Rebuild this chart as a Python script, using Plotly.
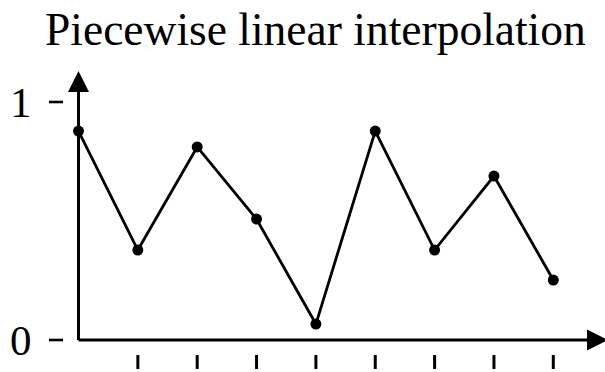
import plotly.graph_objects as go

# Sample points joined by straight segments
x_nodes = [0, 1, 2, 3, 4, 5, 6, 7, 8]
y_nodes = [0.878, 0.378, 0.811, 0.508, 0.067, 0.878, 0.378, 0.689, 0.252]

x_tick_vals = [1, 2, 3, 4, 5, 6, 7, 8]
y_tick_vals = [0, 1]
y_tick_text = ["0", "1"]

title_text = "Piecewise linear interpolation"

W, H = 605, 372
# pixel scale: origin at (78.5, 340), 59.35 px per x unit, 238 px per y unit
X0_PX, Y0_PX, SX, SY = 78.5, 340.0, 59.35, 238.0
x_range = [-X0_PX / SX, (W - X0_PX) / SX]
y_range = [-(H - Y0_PX) / SY, Y0_PX / SY]

FONT = "Liberation Serif"

fig = go.Figure()
fig.add_trace(go.Scatter(
    x=x_nodes, y=y_nodes, mode="lines+markers",
    line=dict(color="black", width=2.8),
    marker=dict(color="black", size=11),
    showlegend=False, hoverinfo="skip",
))

shapes = []
# y-axis tick dashes, detached from the axis
for v in y_tick_vals:
    shapes.append(dict(type="line", xref="x", yref="y",
                       x0=-29.5 / SX, x1=-15.5 / SX, y0=v, y1=v,
                       line=dict(color="black", width=2.6)))
# x-axis tick dashes below the axis
for v in x_tick_vals:
    shapes.append(dict(type="line", xref="x", yref="y",
                       x0=v, x1=v, y0=-15 / SY, y1=-29 / SY,
                       line=dict(color="black", width=3)))

annotations = []
# axes with arrowheads
annotations.append(dict(x=0, y=(Y0_PX - 71) / SY, ax=0, ay=-1.5 / SY,
                        xref="x", yref="y", axref="x", ayref="y",
                        showarrow=True, arrowhead=2, arrowsize=1.4,
                        arrowwidth=3, arrowcolor="black", text="",
                        standoff=0, startstandoff=0))
annotations.append(dict(x=(W + 3 - X0_PX) / SX, y=0, ax=-1.5 / SX, ay=0,
                        xref="x", yref="y", axref="x", ayref="y",
                        showarrow=True, arrowhead=2, arrowsize=1.4,
                        arrowwidth=3, arrowcolor="black", text="",
                        standoff=0, startstandoff=0))
for v, t in zip(y_tick_vals, y_tick_text):
    annotations.append(dict(x=-45 / SX, y=v, xref="x", yref="y",
                            text=t, showarrow=False, xanchor="right",
                            yanchor="middle",
                            font=dict(family=FONT, size=43, color="black")))
annotations.append(dict(x=0.522, y=1.0, xref="paper", yref="paper",
                        text=title_text, showarrow=False,
                        xanchor="center", yanchor="top", yshift=-2,
                        font=dict(family=FONT, size=45.5, color="black")))

fig.update_layout(
    width=W, height=H,
    margin=dict(l=0, r=0, t=0, b=0),
    paper_bgcolor="white", plot_bgcolor="white",
    xaxis=dict(range=x_range, visible=False, fixedrange=True),
    yaxis=dict(range=y_range, visible=False, fixedrange=True),
    shapes=shapes, annotations=annotations,
)

fig.write_html("out.html")
